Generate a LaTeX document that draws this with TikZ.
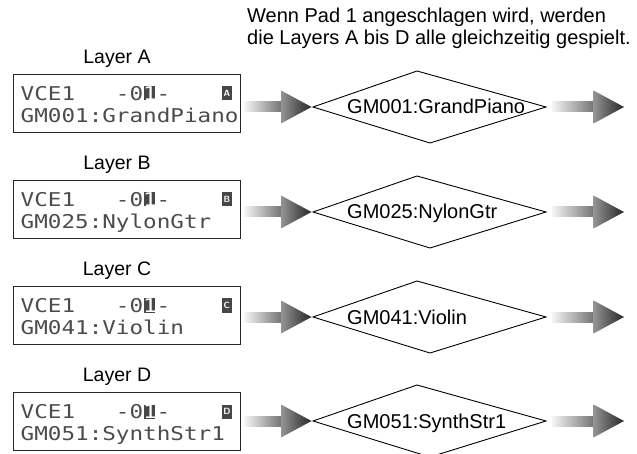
\documentclass[tikz,border=0pt]{standalone}
\usepackage{fontspec}
\setmainfont{Liberation Sans}
\newfontfamily\lcdfont[FakeStretch=1.19]{DejaVu Sans Mono}
\usetikzlibrary{calc}
\newcommand\gradarrow[2]{%
  \shade[left color=black!4, right color=black!55]
    let \p1=(#1), \p2=(#2) in (\x1,\y1-5) rectangle (\x2-30,\y1+5);
  \shade[left color=black!42, right color=black!85]
    let \p1=(#1), \p2=(#2) in (\x2-30.5,\y1-16.5) -- (\x2,\y1) -- (\x2-30.5,\y1+16.5) -- cycle;
}
\begin{document}
\begin{tikzpicture}[x=1pt,y=-1pt,
  lcdbox/.style={draw=black!85, line width=1.4pt, inner sep=0, anchor=north west,
    minimum width=227.5pt, minimum height=58pt},
  lcdtxt/.style={font=\lcdfont\fontsize{19}{19}\selectfont, text=black!70, inner sep=0, anchor=base west},
  lcdinv/.style={fill=black!72, inner sep=0, anchor=west, minimum width=11pt, minimum height=14pt},
  lbl/.style={font=\fontsize{19.5}{20}\selectfont, inner sep=0, anchor=base},
  note/.style={font=\fontsize{20}{23}\selectfont, inner sep=0, anchor=base west},
  dtxt/.style={font=\fontsize{20}{22}\selectfont, inner sep=0, anchor=base west},
  diam/.style={draw=black, line width=0.9pt, fill=white}]
\useasboundingbox (0,0) rectangle (637,454);

\node[note] (note1) at (247,22.5) {Wenn Pad 1 angeschlagen wird, werden};
\node[note] (note2) at (247,45) {die Layers A bis D alle gleichzeitig gespielt.};

\foreach \L/\t/\c/\v in {A/74/107/GM001:GrandPiano, B/180/212/GM025:NylonGtr,
                         C/286/317/GM041:Violin, D/392/421/GM051:SynthStr1}{
  \node[lbl] (lab\L) at (117,\t-10.5) {Layer \L};
  \node[lcdbox] (box\L) at (12.5,\t) {};
  % line 1
  \node[lcdtxt] (vce\L) at (20.5,\t+26.5) {VCE1};
  \node[lcdtxt] (dl\L) at (20.5+7*13.6,\t+26.5) {-0};
  \node[lcdinv] (cur\L) at (21.7+9*13.6,\t+19.5) {};
  \node[lcdtxt, text=white] (one\L) at (20.5+9*13.6,\t+26.5) {1};
  \node[lcdtxt] (dr\L) at (20.5+10*13.6,\t+26.5) {-};
  \node[lcdinv, minimum width=10pt, text=white,
        font=\sffamily\bfseries\fontsize{9}{9}\selectfont] (ind\L) at (221.7,\t+19.5) {\L};
  % line 2
  \node[lcdtxt] (voice\L) at (20.5,\t+48.5) {\v};
  % diamond
  \coordinate (dw\L) at (313,\c);
  \coordinate (de\L) at (546,\c);
  \coordinate (dn\L) at (417,\c-36);
  \coordinate (ds\L) at (430,\c+36);
  \draw[diam] (dw\L) -- (dn\L) -- (de\L) -- (ds\L) -- cycle;
  \node[dtxt] (d\L) at (347,\c+7) {\v};
  % arrows
  \path (box\L.east |- dw\L) ++(3,0) coordinate (as\L);
  \path (dw\L) ++(-1.5,0) coordinate (at\L);
  \path (de\L) ++(6,0) coordinate (bs\L);
  \coordinate (be\L) at (624,\c);
  \gradarrow{as\L}{at\L}
  \gradarrow{bs\L}{be\L}
}
\end{tikzpicture}
\end{document}
